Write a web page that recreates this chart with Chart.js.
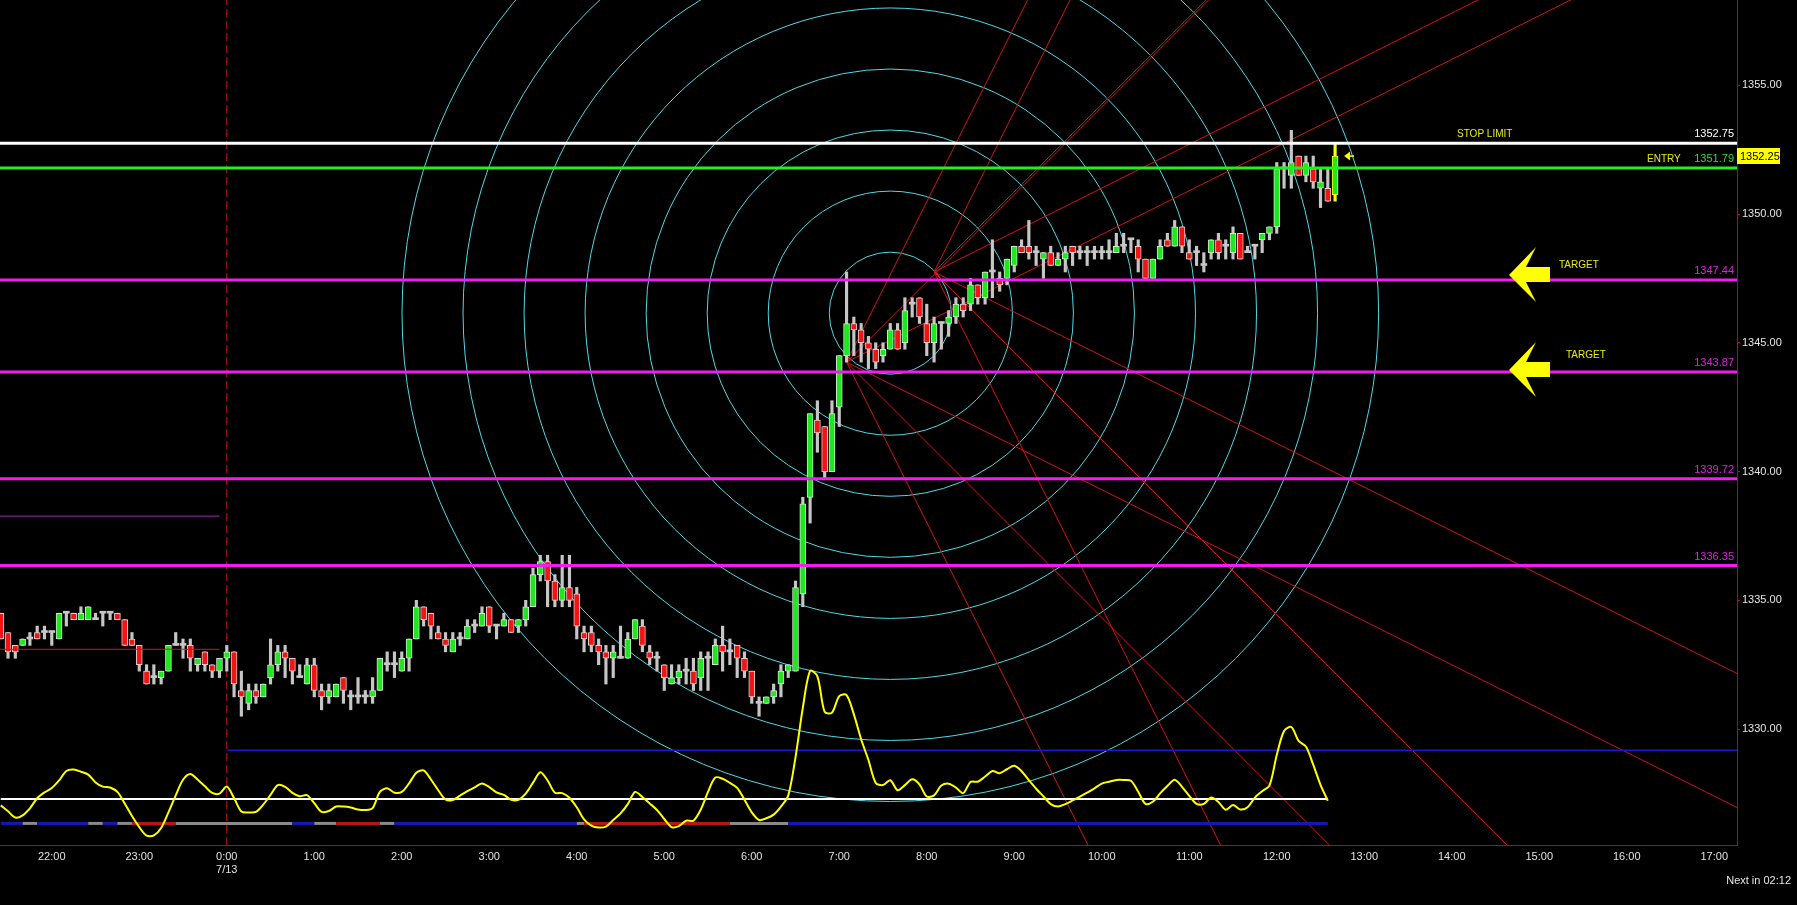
<!DOCTYPE html>
<html><head><meta charset="utf-8">
<script src="https://cdn.jsdelivr.net/npm/chart.js@4.4.1/dist/chart.umd.min.js"></script>
<style>html,body{margin:0;padding:0;background:#000;overflow:hidden}canvas{display:block}</style>
</head><body>
<canvas id="c" width="1797" height="905"></canvas>
<script>
// ---------------- DATA ----------------
// 5-minute bars, time in minutes relative to 7/13 0:00 (first bar 21:25 on 7/12)
const barStartMin = -155;
const barMinutes = 5;

const opens = [1334.5,1333.75,1333.25,1333.25,1333.5,1333.75,1333.75,1333.75,1333.5,1334.5,
1334.5,1334.25,1334.25,1334.25,1334.5,1334.5,1334.5,1334.25,1333.5,1333.25,
1332.25,1332.0,1332.0,1332.25,1333.25,1333.25,1333.25,1332.5,1333.0,1332.5,
1332.25,1332.75,1333.0,1331.5,1331.0,1331.5,1331.25,1332.0,1332.5,1333.0,
1332.75,1332.0,1331.75,1332.5,1331.5,1331.25,1331.25,1332.0,1331.25,1331.25,
1331.25,1331.25,1331.5,1332.5,1332.5,1332.25,1332.75,1333.5,1334.75,1334.5,
1333.75,1333.5,1333.0,1333.5,1333.5,1334.0,1334.0,1334.75,1334.0,1334.0,
1334.25,1334.0,1334.25,1334.75,1336.0,1336.5,1335.75,1335.0,1335.5,1335.25,
1333.75,1333.75,1333.25,1333.0,1332.75,1332.75,1332.75,1333.5,1334.0,1333.0,
1332.75,1332.5,1331.75,1332.0,1332.25,1332.25,1332.0,1332.75,1332.5,1333.25,
1333.0,1333.25,1332.75,1332.25,1331.0,1331.0,1331.25,1331.75,1332.25,1332.25,
1335.25,1339.0,1342.0,1341.75,1340.0,1342.5,1344.5,1345.75,1345.5,1345.0,
1344.75,1344.5,1344.75,1345.5,1345.0,1346.5,1346.75,1345.75,1345.0,1345.75,
1345.75,1346.0,1346.5,1346.5,1347.25,1346.75,1347.75,1347.5,1347.5,1348.0,
1348.75,1348.75,1348.5,1348.25,1348.5,1348.0,1348.25,1348.75,1348.5,1348.5,
1348.5,1348.5,1348.5,1348.5,1348.75,1349.0,1348.75,1348.25,1347.5,1348.25,
1349.0,1348.75,1349.5,1348.5,1348.5,1348.0,1348.5,1349.0,1348.75,1348.5,
1349.25,1348.5,1348.75,1349.0,1349.25,1349.5,1351.75,1351.5,1352.25,1351.5,
1351.75,1351.0,1351.0,1350.75];

const highs = [1334.5,1333.75,1333.25,1333.5,1333.75,1334.0,1334.0,1333.75,1334.5,1334.5,
1334.5,1334.75,1334.75,1334.5,1334.5,1334.5,1334.5,1334.25,1333.75,1333.25,
1332.5,1332.5,1332.25,1333.25,1333.75,1333.5,1333.5,1332.75,1333.0,1332.5,
1332.75,1333.25,1333.0,1332.25,1331.75,1331.75,1331.75,1333.5,1333.25,1333.25,
1332.75,1332.5,1332.75,1332.75,1331.75,1331.75,1331.75,1332.0,1331.5,1332.0,
1331.5,1332.0,1332.75,1333.0,1333.0,1333.0,1333.5,1335.0,1334.75,1334.5,
1334.0,1333.75,1333.75,1333.75,1334.25,1334.25,1334.75,1334.75,1334.0,1334.5,
1334.25,1334.25,1335.0,1336.25,1336.75,1336.75,1336.0,1336.75,1336.75,1335.5,
1334.0,1334.0,1333.5,1333.25,1333.25,1334.0,1333.75,1334.25,1334.25,1333.25,
1333.0,1332.5,1332.5,1332.5,1332.75,1332.75,1333.0,1333.0,1333.5,1334.0,
1333.5,1333.25,1333.0,1332.25,1331.25,1331.25,1331.75,1332.5,1332.5,1335.75,
1339.0,1342.25,1342.75,1341.75,1342.75,1344.5,1347.75,1346.0,1345.75,1345.25,
1345.0,1345.0,1345.75,1345.75,1346.75,1346.75,1346.75,1346.5,1346.0,1345.75,
1346.25,1346.75,1346.75,1347.5,1347.25,1347.75,1349.0,1347.75,1348.25,1348.75,
1349.0,1349.75,1348.75,1348.5,1348.75,1348.5,1348.75,1348.75,1348.75,1348.75,
1348.75,1348.75,1349.0,1349.25,1349.25,1349.0,1349.0,1348.25,1348.25,1349.0,
1349.25,1349.75,1349.5,1349.0,1348.75,1348.5,1349.0,1349.25,1349.0,1349.5,
1349.25,1348.75,1348.75,1349.25,1349.5,1352.0,1352.0,1353.25,1352.25,1352.25,
1352.25,1351.75,1351.75,1352.75];

const lows = [1333.5,1332.75,1332.75,1333.25,1333.25,1333.5,1333.5,1333.25,1333.5,1334.0,
1334.25,1334.25,1334.25,1334.25,1334.0,1334.25,1334.25,1333.25,1333.25,1332.25,
1331.75,1331.75,1331.75,1332.25,1333.25,1332.75,1332.25,1332.25,1332.25,1332.0,
1332.0,1332.25,1331.25,1330.5,1330.75,1331.0,1331.25,1331.75,1332.25,1332.0,
1331.75,1332.0,1331.75,1331.25,1330.75,1331.0,1331.25,1331.0,1330.75,1331.0,
1331.0,1331.0,1331.5,1332.25,1332.0,1332.25,1332.25,1333.5,1334.0,1333.5,
1333.5,1333.0,1333.0,1333.25,1333.5,1333.75,1334.0,1333.75,1333.5,1334.0,
1333.75,1333.75,1334.0,1334.75,1335.75,1334.75,1334.75,1334.75,1334.75,1333.5,
1333.0,1333.0,1332.5,1331.75,1332.0,1332.75,1332.75,1333.5,1333.0,1332.5,
1332.25,1331.5,1331.75,1331.75,1331.75,1331.5,1331.5,1331.5,1332.5,1332.25,
1332.5,1332.0,1332.0,1331.0,1330.5,1331.0,1331.0,1331.25,1332.0,1332.25,
1334.75,1338.0,1340.75,1339.75,1340.0,1341.75,1344.25,1344.5,1344.25,1344.0,
1344.0,1344.25,1344.75,1344.75,1344.75,1346.0,1345.75,1344.5,1344.25,1344.75,
1345.25,1345.75,1346.0,1346.25,1346.5,1346.5,1346.75,1347.0,1347.25,1347.75,
1348.5,1348.25,1348.0,1347.5,1348.0,1348.0,1347.75,1348.0,1348.25,1348.0,
1348.25,1348.25,1348.25,1348.5,1348.5,1348.5,1347.75,1347.5,1347.5,1348.25,
1348.75,1348.75,1348.5,1348.25,1348.0,1347.75,1348.25,1348.25,1348.25,1348.25,
1348.25,1348.5,1348.25,1348.5,1349.0,1349.25,1351.0,1351.0,1351.5,1351.25,
1351.0,1350.25,1350.5,1350.5];

const closes = [1333.5,1333.0,1333.0,1333.5,1333.5,1333.5,1333.75,1333.75,1334.5,1334.5,
1334.25,1334.5,1334.75,1334.25,1334.5,1334.5,1334.25,1333.25,1333.25,1332.5,
1331.75,1332.0,1332.25,1333.25,1333.25,1333.25,1332.75,1332.75,1332.5,1332.25,
1332.75,1333.0,1331.75,1331.25,1331.5,1331.25,1331.75,1332.5,1333.0,1332.75,
1332.25,1332.0,1332.5,1331.5,1331.25,1331.5,1331.75,1331.5,1331.25,1331.25,
1331.25,1331.5,1332.75,1332.5,1332.5,1332.75,1333.5,1334.75,1334.25,1334.0,
1333.5,1333.25,1333.5,1333.5,1334.0,1334.0,1334.5,1334.0,1334.0,1334.25,
1333.75,1334.25,1334.75,1336.0,1336.5,1335.75,1335.0,1335.5,1335.0,1334.0,
1333.5,1333.25,1333.0,1332.75,1333.0,1332.75,1333.5,1334.25,1333.25,1332.75,
1332.75,1332.0,1332.0,1332.25,1332.25,1331.75,1332.75,1332.75,1333.25,1333.0,
1333.0,1332.75,1332.25,1331.25,1331.0,1331.25,1331.5,1332.25,1332.5,1335.5,
1338.75,1342.25,1341.5,1340.0,1342.25,1344.5,1345.75,1345.5,1345.0,1344.75,
1344.25,1344.75,1345.5,1344.75,1346.25,1346.5,1346.0,1345.0,1345.75,1345.75,
1346.0,1346.5,1346.25,1347.25,1346.75,1347.75,1347.75,1347.25,1348.25,1348.75,
1348.5,1348.5,1348.5,1348.5,1348.0,1348.25,1348.5,1348.5,1348.5,1348.5,
1348.5,1348.5,1348.5,1348.75,1348.75,1349.0,1348.25,1347.5,1348.25,1348.75,
1348.75,1349.5,1348.75,1348.25,1348.5,1348.0,1349.0,1348.5,1348.75,1349.25,
1348.25,1348.5,1348.75,1349.25,1349.5,1351.75,1351.75,1352.0,1351.5,1352.0,
1351.25,1351.25,1350.5,1352.25];

// lower oscillator (one value per bar, last bar not yet plotted)
const oscValues = [-2.6,-5.0,-7.6,-6.7,-3.8,0.3,2.7,4.5,7.6,11.5,
12.1,11.2,10.0,6.8,5.1,4.7,2.9,-1.8,-7.0,-11.5,
-15.0,-14.9,-11.9,-5.5,1.5,7.9,10.3,8.0,5.2,2.5,
2.2,5.1,0.4,-5.1,-5.5,-5.3,-2.3,1.7,5.7,5.0,
2.5,1.1,1.6,-1.7,-5.3,-4.9,-3.1,-3.1,-3.5,-4.3,
-4.5,-3.7,2.9,4.4,2.6,2.9,6.4,10.8,11.7,8.0,
3.6,-0.2,-0.4,1.4,3.2,4.8,6.4,4.9,2.7,1.7,
-0.3,-0.3,2.2,6.7,11.0,7.6,2.6,2.4,0.5,-3.4,
-8.3,-10.9,-11.7,-11.3,-8.6,-5.9,-2.1,2.9,0.8,-1.8,
-4.5,-8.2,-11.5,-11.1,-8.9,-8.9,-4.4,2.9,8.8,8.3,
6.6,4.6,-0.3,-5.5,-8.6,-7.9,-6.4,-3.1,1.4,17.1,
37.3,52.5,50.3,35.7,35.4,42.2,42.6,34.7,24.5,16.0,
6.6,5.7,7.7,3.6,5.7,8.1,6.0,1.0,1.5,5.5,
6.3,4.7,2.4,7.0,7.1,9.2,11.5,10.6,12.2,13.6,
11.4,7.7,4.2,1.1,-2.1,-3.1,-2.1,-0.6,1.0,2.6,
4.4,6.3,7.1,7.8,7.8,7.5,3.0,-2.0,-1.1,2.3,
5.3,7.9,5.0,1.3,-2.0,-2.0,0.6,-1.2,-4.4,-2.5,
-4.3,-3.4,0.6,3.2,5.5,18.0,27.9,29.5,23.8,21.5,
14.1,5.8,-0.7];
const oscZero = 0, oscUpper = 20, oscTrend = -10;
// trend state runs along the oscillator (B = blue, G = gray, R = red), in bars
const trendRuns = [['B',3],['G',2],['B',7],['G',2],['B',2],['G',2],['R',6],['G',16],['B',3],['G',3],['R',6],['G',2],['B',25],['G',1],['R',20],['G',8],['B',74]];

// horizontal trade levels
const levelPrices = [1352.75, 1351.79, 1347.44, 1343.87, 1339.72, 1336.35];
const levelNames  = ['STOP LIMIT', 'ENTRY', 'TARGET', 'TARGET', '', ''];
// prior-session short levels (price, end time in minutes)
const priorLevels = [1338.27, 1333.10];
const priorLevelEnd = -5;

// Gann circles
const circleCenterTime = 455, circleCenterPrice = 1346.15, circleStep = 2.37, circleCount = 8;
// Gann fans: origins (time, price), angle ratios, price per bar for 1x1
const fanOrigins = [[425, 1344.25], [485, 1347.75]];
const fanRatios = [0.5, 1, 2];
const fanPricePerBar = 0.2832;

// axes
const timeTicks = [-120,-60,0,60,120,180,240,300,360,420,480,540,600,660,720,780,840,900,960,1020];
const timeTickLabels = ['22:00','23:00',['0:00','7/13'],'1:00','2:00','3:00','4:00','5:00','6:00','7:00','8:00','9:00','10:00','11:00','12:00','13:00','14:00','15:00','16:00','17:00'];
const priceTicks = [1330,1335,1340,1345,1350,1355];
const sessionStart = 0; // dashed line 0:00 7/13
const nextBarText = 'Next in 02:12';

// ---------------- VIEW ----------------
const X_MIN = -155.5, X_MAX = 1035.6;
const Y_MIN = 1325.5, Y_MAX = 1358.31;
const OSC_MIN = -18.85, OSC_MAX = 327.5;

const UP = '#1fe61f', DOWN = '#f01414', WICK = '#c6c6c6', YEL = '#ffff00';
const TXT_YEL = '#eaea1a';
const TREND_COLORS = {B:'#1616b8', G:'#8a8a8a', R:'#b81616'};
const levelColors = ['#ffffff', '#22ee22', '#f01cf0', '#f01cf0', '#f01cf0', '#f01cf0'];
const levelTextColors = ['#ffffff', '#33dd33', '#e020e0', '#e020e0', '#e020e0', '#e020e0'];

const N = opens.length;
const barTimes = opens.map((_, i) => barStartMin + i * barMinutes);
const last = N - 1;
const trendState = [];
trendRuns.forEach(([s, n]) => { for (let k = 0; k < n; k++) trendState.push(s); });

Chart.defaults.font.family = '"Liberation Sans", Arial, sans-serif';
Chart.defaults.font.size = 11;

const datasets = [];
// horizontal levels (on top)
levelPrices.forEach((p, i) => datasets.push({
  type: 'line', data: [{x: X_MIN, y: p}, {x: X_MAX, y: p}], borderColor: levelColors[i],
  borderWidth: 3, pointRadius: 0, order: 0, yAxisID: 'y'
}));
priorLevels.forEach((p, i) => datasets.push({
  type: 'line', data: [{x: X_MIN, y: p}, {x: priorLevelEnd, y: p}],
  borderColor: i === 0 ? '#a428b4' : '#c21e1e', borderWidth: 1, pointRadius: 0, order: 1, yAxisID: 'y'
}));
// candle bodies & wicks
datasets.push({
  type: 'bar', order: 5, yAxisID: 'y', grouped: false,
  data: barTimes.map((t, i) => ({x: t, y: [opens[i], closes[i]]})),
  backgroundColor: barTimes.map((_, i) => closes[i] > opens[i] ? UP : closes[i] < opens[i] ? DOWN : WICK),
  borderColor: barTimes.map((_, i) => i === last ? YEL : (closes[i] > opens[i] ? '#c8ecc8' : '#f0c8c8')),
  borderWidth: barTimes.map((_, i) => closes[i] === opens[i] ? 0 : 1),
  borderSkipped: false, barThickness: 6, minBarLength: 2
});
datasets.push({
  type: 'bar', order: 6, yAxisID: 'y', grouped: false,
  data: barTimes.map((t, i) => ({x: t, y: [lows[i], highs[i]]})),
  backgroundColor: barTimes.map((_, i) => i === last ? YEL : WICK),
  borderWidth: 0, barThickness: 2.5
});
// Gann fan lines
fanOrigins.forEach(([t0, p0]) => {
  fanRatios.forEach(r => {
    [1, -1].forEach(dir => {
      const pEnd = p0 + dir * r * fanPricePerBar * (X_MAX - t0) / barMinutes;
      datasets.push({type: 'line', data: [{x: t0, y: p0}, {x: X_MAX, y: pEnd}],
        borderColor: '#d41414', borderWidth: 1, pointRadius: 0, order: 8, yAxisID: 'y', clip: 0});
    });
  });
});
// session dashed line
datasets.push({type: 'line', data: [{x: sessionStart, y: Y_MIN}, {x: sessionStart, y: Y_MAX}],
  borderColor: '#c81414', borderWidth: 1, borderDash: [8, 4], pointRadius: 0, order: 9, yAxisID: 'y'});
// oscillator
datasets.push({type: 'line', yAxisID: 'yo', order: 3,
  data: oscValues.map((v, i) => ({x: barTimes[i], y: v})),
  borderColor: YEL, borderWidth: 2, pointRadius: 0, tension: 0.3});
datasets.push({type: 'line', yAxisID: 'yo', order: 4,
  data: [{x: barTimes[0], y: oscZero}, {x: barTimes[oscValues.length - 1], y: oscZero}],
  borderColor: '#ffffff', borderWidth: 2, pointRadius: 0});
datasets.push({type: 'line', yAxisID: 'yo', order: 4,
  data: [{x: sessionStart, y: oscUpper}, {x: X_MAX, y: oscUpper}],
  borderColor: '#1a1ad0', borderWidth: 1.5, pointRadius: 0});
datasets.push({type: 'line', yAxisID: 'yo', order: 4,
  data: oscValues.map((_, i) => ({x: barTimes[i], y: oscTrend})),
  borderColor: TREND_COLORS.B, borderWidth: 3, pointRadius: 0,
  segment: {borderColor: ctx => TREND_COLORS[trendState[ctx.p0DataIndex]] || TREND_COLORS.B}});

function drawArrow(ctx, tx, ty) {
  const pts = [[0,0],[27,-28],[17,-8],[41,-8],[41,7],[17,7],[27,27]];
  ctx.beginPath();
  pts.forEach(([dx, dy], k) => k ? ctx.lineTo(tx + dx, ty + dy) : ctx.moveTo(tx + dx, ty + dy));
  ctx.closePath(); ctx.fill();
}

const overlay = {
  id: 'overlay',
  beforeDatasetsDraw(chart) {
    const {ctx, chartArea: a, scales: {x, y}} = chart;
    ctx.save();
    ctx.beginPath(); ctx.rect(a.left, a.top, a.right - a.left, a.bottom - a.top); ctx.clip();
    const cx = x.getPixelForValue(circleCenterTime), cy = y.getPixelForValue(circleCenterPrice);
    ctx.strokeStyle = '#52d8e6'; ctx.lineWidth = 1;
    for (let k = 1; k <= circleCount; k++) {
      const r = Math.abs(y.getPixelForValue(circleCenterPrice - k * circleStep) - cy);
      ctx.beginPath(); ctx.arc(cx, cy, r, 0, Math.PI * 2); ctx.stroke();
    }
    ctx.restore();
  },
  afterDatasetsDraw(chart) {
    const {ctx, chartArea: a, scales: {x, y}} = chart;
    ctx.save();
    ctx.textBaseline = 'alphabetic';
    levelPrices.forEach((p, i) => {
      const py = y.getPixelForValue(p);
      ctx.font = '11px "Liberation Sans", Arial, sans-serif';
      ctx.fillStyle = levelTextColors[i]; ctx.textAlign = 'right';
      ctx.fillText(p.toFixed(2), a.right - 3, py - 6);
    });
    ctx.font = '10px "Liberation Sans", Arial, sans-serif';
    ctx.fillStyle = TXT_YEL; ctx.textAlign = 'left';
    const ySL = y.getPixelForValue(levelPrices[0]);
    ctx.fillText(levelNames[0], a.right - 280, ySL - 6);
    const yEN = y.getPixelForValue(levelPrices[1]);
    ctx.fillText(levelNames[1], a.right - 90, yEN - 6);
    // target arrows
    const arrowCfg = [{dy: -5, lx: 50, ly: -12}, {dy: -2, lx: 57, ly: -14}];
    [2, 3].forEach((li, k) => {
      const py = y.getPixelForValue(levelPrices[li]);
      const tx = a.right - 228;
      ctx.fillStyle = YEL;
      drawArrow(ctx, tx, py + arrowCfg[k].dy);
      ctx.fillStyle = TXT_YEL;
      ctx.fillText(levelNames[li], tx + arrowCfg[k].lx, py + arrowCfg[k].ly);
    });
    // small marker next to last bar
    const mx = x.getPixelForValue(barTimes[last]) + 9, my = y.getPixelForValue(closes[last]);
    ctx.fillStyle = YEL; ctx.strokeStyle = YEL; ctx.lineWidth = 1.5;
    ctx.beginPath(); ctx.moveTo(mx, my); ctx.lineTo(mx + 6, my - 4.5); ctx.lineTo(mx + 6, my + 4.5); ctx.closePath(); ctx.fill();
    ctx.beginPath(); ctx.moveTo(mx + 5, my); ctx.lineTo(mx + 10, my); ctx.stroke();
    ctx.restore();
  },
  afterDraw(chart) {
    const {ctx, chartArea: a, scales: {y}} = chart;
    ctx.save();
    const py = y.getPixelForValue(closes[last]);
    ctx.fillStyle = YEL; ctx.fillRect(a.right, Math.round(py) - 8, 43, 16);
    ctx.fillStyle = '#000'; ctx.font = '11px "Liberation Sans", Arial, sans-serif';
    ctx.textAlign = 'left'; ctx.textBaseline = 'middle';
    ctx.fillText(closes[last].toFixed(2), a.right + 3, Math.round(py) + 0.5);
    ctx.fillStyle = '#e6e6e6'; ctx.textAlign = 'right'; ctx.textBaseline = 'alphabetic';
    ctx.fillText(nextBarText, 1791, 884);
    ctx.restore();
  }
};

new Chart(document.getElementById('c'), {
  type: 'bar',
  data: {datasets},
  options: {
    responsive: false, animation: false, events: [],
    layout: {padding: 0},
    plugins: {legend: {display: false}, tooltip: {enabled: false}},
    scales: {
      x: {
        type: 'linear', position: 'bottom', min: X_MIN, max: X_MAX, offset: false,
        grid: {display: false, drawTicks: false, offset: false},
        border: {display: true, color: '#d00000', width: 1},
        ticks: {color: '#e2e2e2', padding: 5, autoSkip: false, maxRotation: 0, minRotation: 0,
          callback: (v, i) => timeTickLabels[i]},
        afterBuildTicks: s => { s.ticks = timeTicks.map(v => ({value: v})); },
        afterFit: s => { s.height = 60; s.paddingLeft = 0; s.paddingRight = 0; s.paddingTop = 0; s.paddingBottom = 0; }
      },
      y: {
        type: 'linear', position: 'right', min: Y_MIN, max: Y_MAX,
        grid: {display: true, drawOnChartArea: false, drawTicks: true, tickLength: 3, color: '#d00000'},
        border: {display: true, color: '#d00000', width: 1},
        ticks: {color: '#e6e6e6', padding: 2, callback: v => Number(v).toFixed(2)},
        afterBuildTicks: s => { s.ticks = priceTicks.map(v => ({value: v})); },
        afterFit: s => { s.width = 60; s.paddingTop = 0; s.paddingBottom = 0; s.paddingLeft = 0; s.paddingRight = 0; }
      },
      yo: {type: 'linear', display: false, min: OSC_MIN, max: OSC_MAX,
        afterFit: s => { s.paddingTop = 0; s.paddingBottom = 0; }}
    }
  },
  plugins: [overlay]
});
</script>
</body></html>
